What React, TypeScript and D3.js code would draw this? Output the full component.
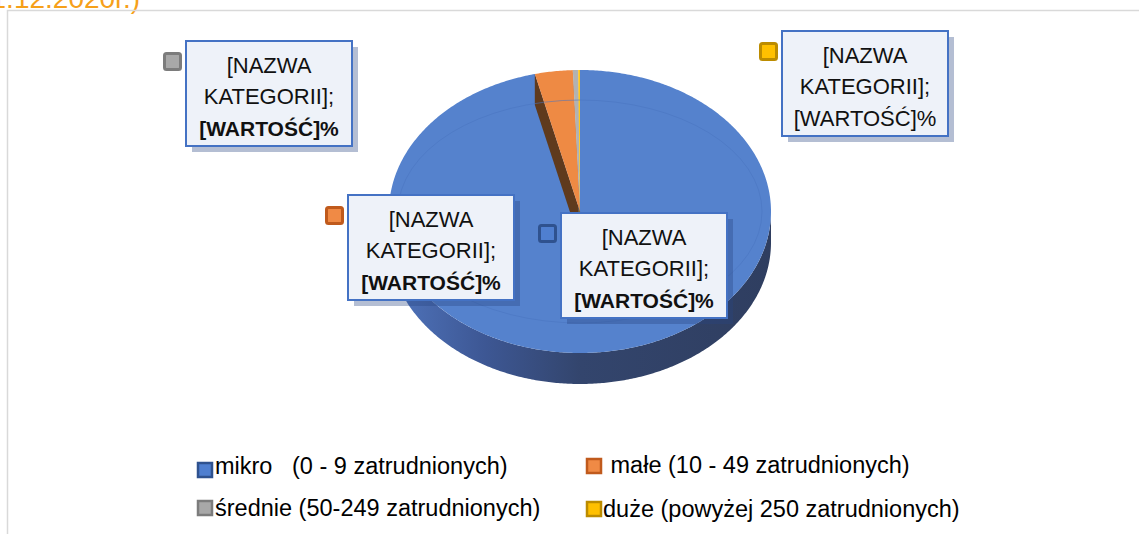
import React from "react";
import * as d3 from "d3";

const categories = ["mikro", "małe", "średnie", "duże"];
const values = [96.2, 3.2, 0.45, 0.15];
const legendLabels = [
  "mikro   (0 - 9 zatrudnionych)",
  " małe (10 - 49 zatrudnionych)",
  "średnie (50-249 zatrudnionych)",
  "duże (powyżej 250 zatrudnionych)",
];
const topColors = ["#5582cd", "#ee8a44", "#b2b2b2", "#ffc61a"];
const keyFill = ["#4f7fd0", "#f08a45", "#a8a8a8", "#ffc000"];
const keyStroke = ["#2f528f", "#c05a1c", "#7c7c7c", "#bc8c00"];
const wallColors = ["#34466e", "#5f3a1d", "#6a6a6a", "#8a6a00"];
const labelLines = ["[NAZWA", "KATEGORII];", "[WARTOŚĆ]%"];
const boldValue = [true, true, true, false];
const titleText = "(stan na 31.12.2020r.)";

// layout
const W = 1139, H = 534;
const cx = 580, cy = 211.5, rx = 191, ry = 141.5, depth = 31;
const labelPos = [
  { x: 561, y: 213 },
  { x: 348, y: 195 },
  { x: 186, y: 41 },
  { x: 782, y: 31 },
];
const boxW = 166, boxH = 105;
const legendKey = [
  { x: 197, y: 462 },
  { x: 586, y: 458 },
  { x: 197, y: 500 },
  { x: 586, y: 501 },
];
const legendText = [
  { x: 215, y: 474 },
  { x: 604, y: 473 },
  { x: 215, y: 516 },
  { x: 603, y: 517 },
];

const pt = (a: number, dy = 0): [number, number] => [
  cx + rx * Math.sin(a),
  cy - ry * Math.cos(a) + dy,
];

function arcPoints(a0: number, a1: number, dy = 0): [number, number][] {
  const n = Math.max(2, Math.ceil(Math.abs(a1 - a0) / 0.01));
  return d3.range(n + 1).map((i) => pt(a0 + ((a1 - a0) * i) / n, dy));
}

const line = d3.line();

export default function App() {
  const arcs = d3
    .pie<number>()
    .sort(null)
    .startAngle(0)
    .endAngle(2 * Math.PI)(values);

  const sides = arcs
    .map((a, i) => {
      const s = Math.max(a.startAngle, Math.PI / 2);
      const e = Math.min(a.endAngle, (3 * Math.PI) / 2);
      if (e <= s) return null;
      const top = arcPoints(s, e);
      const bottom = arcPoints(e, s, depth);
      return { i, d: line([...top, ...bottom])! + "Z" };
    })
    .filter(Boolean) as { i: number; d: string }[];

  const topPath = (a: d3.PieArcDatum<number>) =>
    line([[cx, cy], ...arcPoints(a.startAngle, a.endAngle)])! + "Z";

  const wallPath = (a: d3.PieArcDatum<number>) => {
    const p = pt(a.startAngle);
    return (
      line([
        [cx, cy],
        p,
        [p[0], p[1] + depth],
        [cx, cy + depth],
      ])! + "Z"
    );
  };

  return (
    <svg
      width={W}
      height={H}
      style={{ position: "absolute", left: 0, top: 0, display: "block" }}
    >
      <defs>
        <linearGradient id="sideGrad" x1={cx - rx} x2={cx + rx} gradientUnits="userSpaceOnUse" y1={0} y2={0}>
          <stop offset="0%" stopColor="#5075bd" />
          <stop offset="25%" stopColor="#3d5794" />
          <stop offset="50%" stopColor="#33456d" />
          <stop offset="100%" stopColor="#2f3e60" />
        </linearGradient>
        <clipPath id="topClip">
          <ellipse cx={cx} cy={cy} rx={rx} ry={ry} />
        </clipPath>
      </defs>
      <rect x={0} y={0} width={W} height={H} fill="#ffffff" />
      <text
        x={140}
        y={8}
        textAnchor="end"
        fontFamily="Liberation Sans, Arial, sans-serif"
        fontSize={28}
        fill="#f6a01a"
      >
        {titleText}
      </text>
      <rect x={7.5} y={10.5} width={1300} height={700} fill="none" stroke="#d9d9d9" strokeWidth={1.5} />

      {sides.map((s) => (
        <path key={"s" + s.i} d={s.d} fill={s.i === 0 ? "url(#sideGrad)" : wallColors[s.i]} />
      ))}
      <path d={topPath(arcs[0])} fill={topColors[0]} />
      <g clipPath="url(#topClip)">
        {arcs.slice(1).map((a, k) => (
          <path key={"w" + k} d={wallPath(a)} fill={wallColors[k + 1]} />
        ))}
      </g>
      {arcs.slice(1).map((a, k) => (
        <path key={"t" + k} d={topPath(a)} fill={topColors[k + 1]} />
      ))}
      <ellipse cx={cx} cy={cy} rx={rx - 9} ry={ry - 30} fill="none" stroke="#4a74c0" strokeWidth={0.8} opacity={0.7} />

      {labelPos.map((p, i) => (
        <g key={"l" + i}>
          <rect x={p.x + 6} y={p.y + 6} width={boxW} height={boxH} fill="rgba(40,70,130,0.35)" />
          <rect x={p.x} y={p.y} width={boxW} height={boxH} fill="#eef2f9" stroke="#4472c4" strokeWidth={2} />
          <rect x={p.x - 21.5} y={p.y + 12.5} width={16} height={16} rx={2} fill={keyFill[i]} stroke={keyStroke[i]} strokeWidth={3} />
          {labelLines.map((t, j) => {
            const bold = j === 2 && boldValue[i];
            return (
              <text
                key={j}
                x={p.x + boxW / 2}
                y={p.y + 31.5 + j * 31.5}
                textAnchor="middle"
                fontFamily="Liberation Sans, Arial, sans-serif"
                fontSize={bold ? 21 : 22}
                fontWeight={bold ? "bold" : "normal"}
                fill="#111"
              >
                {t}
              </text>
            );
          })}
        </g>
      ))}

      {legendKey.map((p, i) => (
        <g key={"g" + i}>
          <rect x={p.x + 1} y={p.y + 1} width={14} height={14} fill={keyFill[i]} stroke={keyStroke[i]} strokeWidth={2.5} />
          <text
            x={legendText[i].x}
            y={legendText[i].y}
            fontFamily="Liberation Sans, Arial, sans-serif"
            fontSize={23.5}
            fill="#000"
            style={{ whiteSpace: "pre" }}
          >
            {legendLabels[i]}
          </text>
        </g>
      ))}
    </svg>
  );
}
